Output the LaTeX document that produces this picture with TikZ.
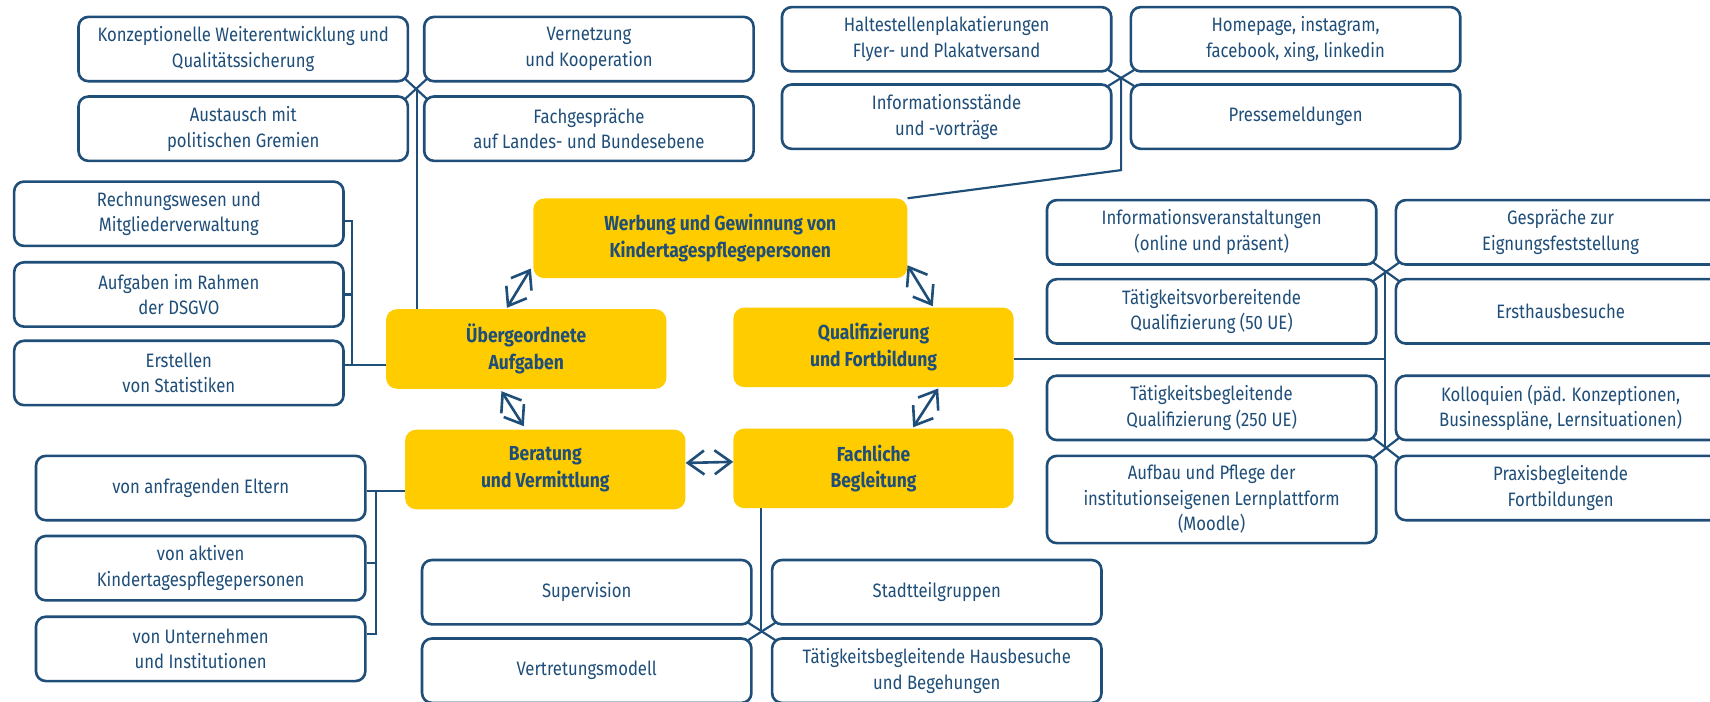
\documentclass[tikz,border=0pt]{standalone}
\usepackage{fontspec}
\setmainfont{Fira Sans}[FakeStretch=0.86]
\usepackage{tikz}
\usetikzlibrary{arrows.meta}
\usetikzlibrary{backgrounds}
\definecolor{navy}{HTML}{1F4E79}
\definecolor{gold}{HTML}{FFCC00}
\tikzset{subbox/.style = {draw = navy, fill = white, line width = 2.4, rounded corners = 9,
                          minimum width = 302, minimum height = 59, inner sep = 0,
                          align = center, text = navy, font = \fontsize{17.8}{23.5}\selectfont}}
\tikzset{mainbox/.style = {fill = gold, rounded corners = 10, minimum width = 257,
                           minimum height = 73, inner sep = 0, align = center, text = navy,
                           font = \bfseries\fontsize{18.6}{24.5}\selectfont}}
\tikzset{link/.style = {draw = navy, line width = 2}}
\tikzset{cross/.style = {link, shorten <= -5pt, shorten >= -5pt}}
\tikzset{twoway/.style = {draw = navy, line width = 2.4,
                          {Straight Barb[length=15, width=22]}-{Straight Barb[length=15, width=22]}}}

\begin{document}
\begin{tikzpicture}[x=1pt, y=-1pt]
      \useasboundingbox (0, 0) rectangle (1568, 643);
      \clip (0, 0) rectangle (1568, 643);

      \node (werb) at (660.5, 218.5) [mainbox, minimum width = 343] {Werbung und Gewinnung von\\Kindertagespflegepersonen};
      \node (ueber) at (482.5, 320) [mainbox] {Übergeordnete\\Aufgaben};
      \node (quali) at (801, 318.5) [mainbox] {Qualifizierung\\und Fortbildung};
      \node (berat) at (500, 430.5) [mainbox] {Beratung\\und Vermittlung};
      \node (fach) at (801, 429.5) [mainbox] {Fachliche\\Begleitung};

      \node (konz) at (223, 45) [subbox] {Konzeptionelle Weiterentwicklung und\\Qualitätssicherung};
      \node (vern) at (540, 45) [subbox] {Vernetzung\\und Kooperation};
      \node (aust) at (223, 118) [subbox] {Austausch mit\\politischen Gremien};
      \node (fachg) at (540, 118) [subbox] {Fachgespräche\\auf Landes- und Bundesebene};

      \node (halt) at (868, 36) [subbox] {Haltestellenplakatierungen\\Flyer- und Plakatversand};
      \node (home) at (1188, 36) [subbox] {Homepage, instagram,\\facebook, xing, linkedin};
      \node (info) at (868, 107) [subbox] {Informationsstände\\und -vorträge};
      \node (press) at (1188, 107) [subbox] {Pressemeldungen};

      \node (rech) at (164, 196) [subbox] {Rechnungswesen und\\Mitgliederverwaltung};
      \node (dsgvo) at (164, 270) [subbox] {Aufgaben im Rahmen\\der DSGVO};
      \node (stat) at (164, 342) [subbox] {Erstellen\\von Statistiken};

      \node (eltern) at (184, 447.5) [subbox] {von anfragenden Eltern};
      \node (aktiv) at (184, 521) [subbox] {von aktiven\\Kindertagespflegepersonen};
      \node (untern) at (184, 595) [subbox] {von Unternehmen\\und Institutionen};

      \node (superv) at (538, 543) [subbox] {Supervision};
      \node (stadt) at (859, 543) [subbox] {Stadtteilgruppen};
      \node (vertr) at (538, 615) [subbox] {Vertretungsmodell};
      \node (hausb) at (859, 615) [subbox] {Tätigkeitsbegleitende Hausbesuche\\und Begehungen};

      \node (veran) at (1111, 213) [subbox] {Informationsveranstaltungen\\(online und präsent)};
      \node (eign) at (1431, 213) [subbox] {Gespräche zur\\Eignungsfeststellung};
      \node (vorb) at (1111, 285.5) [subbox] {Tätigkeitsvorbereitende\\Qualifizierung (50 UE)};
      \node (ersth) at (1431, 285.5) [subbox] {Ersthausbesuche};
      \node (begl) at (1111, 374) [subbox] {Tätigkeitsbegleitende\\Qualifizierung (250 UE)};
      \node (kollo) at (1431, 374) [subbox] {Kolloquien (päd. Konzeptionen,\\Businesspläne, Lernsituationen)};
      \node (moodle) at (1111, 458) [subbox, minimum height = 80] {Aufbau und Pflege der\\institutionseigenen Lernplattform\\(Moodle)};
      \node (praxis) at (1431, 447.5) [subbox] {Praxisbegleitende\\Fortbildungen};

      \coordinate (kx) at (382, 81);
      \coordinate (wx) at (1028, 72);
      \coordinate (wbend) at (1028, 156);
      \coordinate (rtop) at (323, 203);
      \coordinate (rbot) at (323, 335);
      \coordinate (etop) at (345, 450);
      \coordinate (ebot) at (345, 581);
      \coordinate (fx) at (698, 579);
      \coordinate (qup) at (1270, 249);
      \coordinate (qmid) at (1270, 329);
      \coordinate (qlow) at (1270, 410);

      \begin{scope}[on background layer]
        \draw [link] (kx) -- (kx |- ueber.north);
        \draw [link] (wx) -- (wbend) -- (werb.north east);

        \draw [link] (rech.east |- rtop) -- (rtop) -- (rbot) -- (ueber.west |- rbot);
        \draw [link] (dsgvo.east) -- (dsgvo.east -| rtop);
        \draw [link] (stat.east |- rbot) -- (rbot);

        \draw [link] (eltern.east |- etop) -- (etop) -- (ebot) -- (untern.east |- ebot);
        \draw [link] (etop) -- (berat.west |- etop);
        \draw [link] (aktiv.east |- 0, 516) -- (etop |- 0, 516);

        \draw [link] (fx) -- (fx |- fach.south);

        \draw [link] (qup) -- (qlow);
        \draw [link] (quali.east |- qmid) -- (qmid);
      \end{scope}

      \draw [cross] (konz.south east) -- (fachg.north west);
      \draw [cross] (vern.south west) -- (aust.north east);
      \draw [cross] (halt.south east) -- (press.north west);
      \draw [cross] (home.south west) -- (info.north east);
      \draw [cross] (superv.south east) -- (hausb.north west);
      \draw [cross] (stadt.south west) -- (vertr.north east);
      \draw [cross] (veran.south east) -- (ersth.north west);
      \draw [cross] (eign.south west) -- (vorb.north east);
      \draw [cross] (begl.south east) -- (praxis.north west);
      \draw [cross] (kollo.south west) -- (moodle.north east);

      \draw [twoway] ([shift={(-2, -9)}]werb.south west) -- ([shift={(111, -1)}]ueber.north west);
      \draw [twoway] ([shift={(0, -12)}]werb.south east) -- ([shift={(183, -1)}]quali.north west);
      \draw [twoway] ([shift={(106, 2)}]ueber.south west) -- ([shift={(109, -3)}]berat.north west);
      \draw [twoway] ([shift={(188, 1)}]quali.south west) -- ([shift={(165, -1)}]fach.north west);
      \draw [twoway] ([shift={(0, -6)}]berat.east) -- ([shift={(0, -6)}]fach.west);
    \end{tikzpicture}
\end{document}
